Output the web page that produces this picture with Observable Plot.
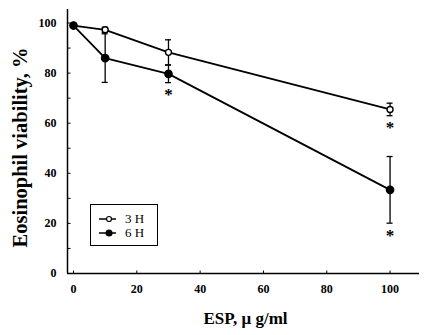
<!DOCTYPE html>
<html>
<head>
<meta charset="utf-8">
<script src="https://cdn.jsdelivr.net/npm/d3@7"></script>
<script src="https://cdn.jsdelivr.net/npm/@observablehq/plot@0.6"></script>
<style>
  html, body { margin: 0; padding: 0; background: #fff; }
  #wrap { position: relative; width: 428px; height: 335px; }
  svg text { font-family: "Liberation Serif", "Times New Roman", serif; font-weight: bold; }
  #legend { position: absolute; left: 90px; top: 204px; width: 68px; height: 42px; border: 1.2px solid #000; box-sizing: border-box;
    font-family: "Liberation Serif", "Times New Roman", serif; font-size: 13px; line-height: 12px; color: #000; }
  #legend .row { position: absolute; left: 8px; height: 12px; display: flex; align-items: center; }
  #legend .row span { margin-left: 9px; }
</style>
</head>
<body>
<div id="wrap"></div>
<script>
// Data
const dose = [0, 10, 30, 100];                 // ESP, µg/ml
const series = ["3 H", "6 H"];
const viability3H = [99, 97.3, 88.3, 65.5];     // %
const err3H       = [0.5, 1.0, 5.0, 2.5];
const viability6H = [99, 86.0, 79.7, 33.4];
const err6H       = [0.5, 9.7, 3.5, 13.3];
const signif3H    = [false, false, false, true];
const signif6H    = [false, false, true, true];
const yTicks = [0, 20, 40, 60, 80, 100];
const yMinor = [10, 30, 50, 70, 90];
const xTicks = [0, 20, 40, 60, 80, 100];
const yLabel = "Eosinophil viability, %";
const xLabel = "ESP, μ g/ml";

const rows = [];
dose.forEach((d, i) => {
  rows.push({series: "3 H", dose: d, v: viability3H[i], e: err3H[i], sig: signif3H[i]});
  rows.push({series: "6 H", dose: d, v: viability6H[i], e: err6H[i], sig: signif6H[i]});
});
const withErr = rows.filter(r => r.dose > 0);

const xDomain = [-1.9, 109.3];
const yDomain = [0, 105.4];

const chart = Plot.plot({
  width: 428,
  height: 335,
  marginLeft: 67,
  marginRight: 9,
  marginTop: 9,
  marginBottom: 62,
  x: {domain: xDomain},
  y: {domain: yDomain},
  style: {fontFamily: "Liberation Serif, serif", fontSize: "12px", color: "#000", background: "#fff"},
  marks: [
    // axis lines
    Plot.ruleX([xDomain[0]], {stroke: "#000", strokeWidth: 1.5}),
    Plot.ruleY([0], {stroke: "#000", strokeWidth: 1.5}),
    // y ticks (inward) and labels
    Plot.axisY({ticks: yTicks.concat(yMinor), tickSize: -3.5, tickFormat: () => "", label: null}),
    Plot.axisY({ticks: yTicks, tickSize: 0, tickPadding: 11, fontSize: 12, fontWeight: "bold", label: null}),
    // x ticks and labels
    Plot.axisX({ticks: xTicks, tickSize: -2.5, tickFormat: () => "", label: null}),
    Plot.axisX({ticks: xTicks, tickSize: 0, tickPadding: 11, fontSize: 12, fontWeight: "bold", label: null}),
    // axis titles
    Plot.text([yLabel], {frameAnchor: "left", textAnchor: "middle", rotate: -90, dx: -47, dy: 6, fontSize: 20.5, fontWeight: "bold", fill: "#000"}),
    Plot.text([xLabel], {frameAnchor: "bottom", dx: 2, dy: 50, fontSize: 17, fontWeight: "bold", fill: "#000"}),
    // lines
    Plot.line(rows, {x: "dose", y: "v", z: "series", stroke: "#000", strokeWidth: 1.8}),
    // error bars
    Plot.ruleX(withErr, {x: "dose", y1: d => d.v - d.e, y2: d => d.v + d.e, stroke: "#000", strokeWidth: 1.3}),
    Plot.ruleY(withErr, {y: d => d.v + d.e, x1: "dose", x2: "dose", insetLeft: -3, insetRight: -3, stroke: "#000", strokeWidth: 1.3}),
    Plot.ruleY(withErr, {y: d => d.v - d.e, x1: "dose", x2: "dose", insetLeft: -3, insetRight: -3, stroke: "#000", strokeWidth: 1.3}),
    // markers
    Plot.dot(rows.filter(r => r.series === "3 H"), {x: "dose", y: "v", r: 3, fill: "#fff", stroke: "#000", strokeWidth: 1.4}),
    Plot.dot(rows.filter(r => r.series === "6 H"), {x: "dose", y: "v", r: 3.6, fill: "#000", stroke: "#000"}),
    // significance stars
    Plot.text(rows.filter(r => r.sig), {x: "dose", y: d => d.v - d.e, text: () => "*", dy: 12, fontSize: 17, fontWeight: "bold", fill: "#000"})
  ]
});
document.getElementById("wrap").appendChild(chart);

// legend
const legend = document.createElement("div");
legend.id = "legend";
series.forEach((s, i) => {
  const row = document.createElement("div");
  row.className = "row";
  row.style.top = (8 + i * 14) + "px";
  const filled = s === "6 H";
  row.innerHTML = `<svg width="17" height="10"><line x1="0" y1="5" x2="17" y2="5" stroke="#000" stroke-width="1.5"/>` +
    `<circle cx="10" cy="5" r="${filled ? 3 : 2.5}" fill="${filled ? "#000" : "#fff"}" stroke="#000" stroke-width="1.2"/></svg><span>${s}</span>`;
  legend.appendChild(row);
});
document.getElementById("wrap").appendChild(legend);
</script>
</body>
</html>
